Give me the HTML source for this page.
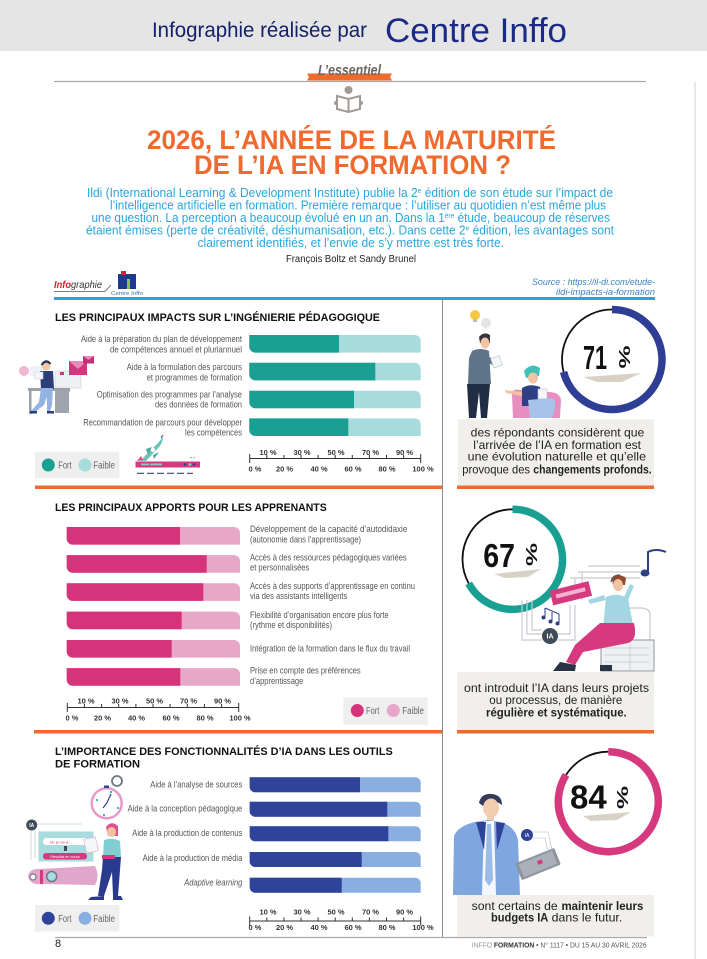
<!DOCTYPE html>
<html><head><meta charset="utf-8"><style>
html,body{margin:0;padding:0;background:#fff;}
svg{display:block;}
text{font-family:"Liberation Sans","DejaVu Sans",sans-serif;}
.n{font-family:"Liberation Sans Narrow","Liberation Sans",sans-serif;fill:#555;font-size:9.5px;}
.t{font-size:7.5px;font-weight:bold;fill:#333;text-anchor:middle;}
.h{font-size:11px;font-weight:bold;fill:#111;}
.b{font-size:12px;fill:#222;}
.p{font-size:12.5px;fill:#2aa5de;}
.lg{font-size:10px;fill:#666;}
</style></head><body>
<svg width="707" height="959" viewBox="0 0 707 959" xmlns="http://www.w3.org/2000/svg">
<rect width="707" height="959" fill="#fff"/>
<!-- header -->
<rect width="707" height="51" fill="#e5e5e5"/>
<text x="152" y="37" font-size="21" fill="#14216a" textLength="215" lengthAdjust="spacingAndGlyphs">Infographie réalisée par</text>
<text x="385" y="42" font-size="34" fill="#1b2a86" textLength="182" lengthAdjust="spacingAndGlyphs">Centre Inffo</text>
<rect x="694" y="82" width="2" height="877" fill="#e8e8e8"/>

<!-- L'essentiel -->
<polygon points="307,73.5 392,73.5 390,77 392,80.5 307,80.5 309,77" fill="#ee6a2d"/>
<text x="318" y="75" font-family="Liberation Serif" font-style="italic" font-weight="bold" font-size="15" fill="#6b6560" textLength="63" lengthAdjust="spacingAndGlyphs">L’essentiel</text>
<line x1="54" y1="81.5" x2="646" y2="81.5" stroke="#a9a9a9" stroke-width="1.2"/>
<!-- book icon -->
<circle cx="348.5" cy="90" r="4" fill="#a09a95"/>
<path d="M337,96 L348.5,99 L360,96 L360,109 L348.5,112 L337,109 Z M348.5,99 V112" stroke="#a09a95" stroke-width="2" fill="none"/>
<circle cx="336" cy="103" r="2" fill="#a09a95"/>
<circle cx="361" cy="103" r="2" fill="#a09a95"/>

<!-- title -->
<text x="147" y="149" font-size="27" font-weight="bold" fill="#ef6a2e" textLength="409" lengthAdjust="spacingAndGlyphs">2026, L’ANNÉE DE LA MATURITÉ</text>
<text x="194" y="174" font-size="27" font-weight="bold" fill="#ef6a2e" textLength="317" lengthAdjust="spacingAndGlyphs">DE L’IA EN FORMATION ?</text>

<!-- intro -->
<text class="p" x="87" y="197" textLength="526" lengthAdjust="spacingAndGlyphs">Ildi (International Learning &amp; Development Institute) publie la 2<tspan font-size="7" dy="-4">e</tspan><tspan dy="4"> édition de son étude sur l’impact de</tspan></text>
<text class="p" x="110" y="209.5" textLength="496" lengthAdjust="spacingAndGlyphs">l’intelligence artificielle en formation. Première remarque : l’utiliser au quotidien n’est même plus</text>
<text class="p" x="91.5" y="222" textLength="518.5" lengthAdjust="spacingAndGlyphs">une question. La perception a beaucoup évolué en un an. Dans la 1<tspan font-size="7" dy="-4">ère</tspan><tspan dy="4"> étude, beaucoup de réserves</tspan></text>
<text class="p" x="86" y="234.5" textLength="528" lengthAdjust="spacingAndGlyphs">étaient émises (perte de créativité, déshumanisation, etc.). Dans cette 2<tspan font-size="7" dy="-4">e</tspan><tspan dy="4"> édition, les avantages sont</tspan></text>
<text class="p" x="197.5" y="247" textLength="306.5" lengthAdjust="spacingAndGlyphs">clairement identifiés, et l’envie de s’y mettre est très forte.</text>
<text x="351" y="262" font-size="10" fill="#222" text-anchor="middle" textLength="130" lengthAdjust="spacingAndGlyphs">François Boltz et Sandy Brunel</text>

<!-- infographie logo -->
<text x="54" y="288" font-size="10" font-style="italic" font-weight="bold" fill="#d3232e" textLength="48" lengthAdjust="spacingAndGlyphs">Info<tspan fill="#333" font-weight="normal">graphie</tspan></text>
<path d="M54,291.5 H105 L111,285" stroke="#555" stroke-width="0.8" fill="none"/>
<rect x="118" y="274" width="18" height="15" fill="#1c3b8c"/>
<rect x="121" y="271" width="5" height="4" fill="#d3232e"/>
<rect x="127" y="279" width="3" height="10" fill="#8cc63f"/>
<text x="111" y="295" font-size="5.5" fill="#3a6fb7" textLength="32" lengthAdjust="spacingAndGlyphs">Centre Inffo</text>
<text x="655" y="285" font-size="9" font-style="italic" fill="#3b82c4" text-anchor="end" textLength="123" lengthAdjust="spacingAndGlyphs">Source : https://il-di.com/etude-</text>
<text x="655" y="295" font-size="9" font-style="italic" fill="#3b82c4" text-anchor="end" textLength="99" lengthAdjust="spacingAndGlyphs">ildi-impacts-ia-formation</text>
<rect x="54" y="297" width="601" height="3" fill="#2aa3de"/>

<!-- divider & lines -->
<line x1="442.5" y1="300" x2="442.5" y2="937" stroke="#8c8c8c" stroke-width="1"/>
<rect x="35" y="485.5" width="407" height="3.5" fill="#ee6a2d"/>
<rect x="457" y="485.5" width="197" height="3.5" fill="#ee6a2d"/>
<rect x="34" y="730" width="408" height="3.5" fill="#ee6a2d"/>
<rect x="457" y="730" width="197" height="3.5" fill="#ee6a2d"/>
<line x1="55" y1="937.5" x2="647" y2="937.5" stroke="#aaa" stroke-width="1.2"/>

<!-- ===== SECTION 1 ===== -->
<text class="h" x="55" y="321" textLength="325" lengthAdjust="spacingAndGlyphs">LES PRINCIPAUX IMPACTS SUR L’INGÉNIERIE PÉDAGOGIQUE</text>
<g fill="#a6dcdb">
<path d="M249.3,335 H414.7 A6,6 0 0 1 420.7,341 V352.6 H255.3 A6,6 0 0 1 249.3,346.6 Z"/>
<path d="M249.3,362.8 H414.7 A6,6 0 0 1 420.7,368.8 V380.4 H255.3 A6,6 0 0 1 249.3,374.4 Z"/>
<path d="M249.3,390.7 H414.7 A6,6 0 0 1 420.7,396.7 V408.3 H255.3 A6,6 0 0 1 249.3,402.3 Z"/>
<path d="M249.3,418.4 H414.7 A6,6 0 0 1 420.7,424.4 V436 H255.3 A6,6 0 0 1 249.3,430 Z"/>
</g>
<g fill="#19a093">
<path d="M249.3,335 H339 V352.6 H255.3 A6,6 0 0 1 249.3,346.6 Z"/>
<path d="M249.3,362.8 H375.3 V380.4 H255.3 A6,6 0 0 1 249.3,374.4 Z"/>
<path d="M249.3,390.7 H354 V408.3 H255.3 A6,6 0 0 1 249.3,402.3 Z"/>
<path d="M249.3,418.4 H348.3 V436 H255.3 A6,6 0 0 1 249.3,430 Z"/>
</g>
<g text-anchor="end">
<text class="n" x="242" y="342" textLength="161" lengthAdjust="spacingAndGlyphs">Aide à la préparation du plan de développement</text>
<text class="n" x="242" y="352.5" textLength="132" lengthAdjust="spacingAndGlyphs">de compétences annuel et pluriannuel</text>
<text class="n" x="242" y="370" textLength="115.3" lengthAdjust="spacingAndGlyphs">Aide à la formulation des parcours</text>
<text class="n" x="242" y="380.3" textLength="95.3" lengthAdjust="spacingAndGlyphs">et programmes de formation</text>
<text class="n" x="242" y="397.3" textLength="145.3" lengthAdjust="spacingAndGlyphs">Optimisation des programmes par l’analyse</text>
<text class="n" x="242" y="407.7" textLength="87" lengthAdjust="spacingAndGlyphs">des données de formation</text>
<text class="n" x="242" y="425.3" textLength="158.7" lengthAdjust="spacingAndGlyphs">Recommandation de parcours pour développer</text>
<text class="n" x="242" y="435.7" textLength="57" lengthAdjust="spacingAndGlyphs">les compétences</text>
</g>
<!-- axis 1 -->
<path d="M249.7,458.5 H420.7 M249.7,454 V463 M266.8,455 V458.5 M283.9,455 V458.5 M301,455 V458.5 M318.1,455 V458.5 M335.2,455 V458.5 M352.3,455 V458.5 M369.4,455 V458.5 M386.5,455 V458.5 M403.6,455 V458.5 M420.7,454 V463" stroke="#333" stroke-width="1" fill="none"/>
<text class="t" x="268" y="455">10 %</text><text class="t" x="302" y="455">30 %</text><text class="t" x="336" y="455">50 %</text><text class="t" x="370.5" y="455">70 %</text><text class="t" x="404.5" y="455">90 %</text>
<text class="t" x="255" y="471.7">0 %</text><text class="t" x="284.5" y="471.7">20 %</text><text class="t" x="319" y="471.7">40 %</text><text class="t" x="353" y="471.7">60 %</text><text class="t" x="387" y="471.7">80 %</text><text class="t" x="423" y="471.7">100 %</text>
<!-- legend 1 -->
<rect x="35" y="451.7" width="84.3" height="26.6" fill="#efefef"/>
<circle cx="48.3" cy="465" r="6.5" fill="#19a093"/>
<text class="lg" x="58.3" y="468.5" textLength="13.3" lengthAdjust="spacingAndGlyphs">Fort</text>
<circle cx="85" cy="465" r="6.5" fill="#a6dcdb"/>
<text class="lg" x="93.3" y="468.5" textLength="21.7" lengthAdjust="spacingAndGlyphs">Faible</text>
<!-- desk illustration -->
<g>
<circle cx="24" cy="371" r="5" fill="#f0b6d2"/>
<rect x="30" y="366" width="12" height="10" fill="#eef1f6"/>
<rect x="55" y="371" width="26" height="17" fill="#eef0f4" stroke="#d5d9e0" stroke-width="0.8"/>
<rect x="66" y="388" width="4" height="4" fill="#c9ced6"/>
<rect x="69" y="361" width="18" height="14" fill="#d4357f"/>
<path d="M69,361 L78,369 L87,361 Z" fill="#e88bb8"/>
<rect x="83" y="356" width="11" height="7.5" fill="#c42f76"/>
<path d="M83,356 L88.5,360 L94,356 Z" fill="#e88bb8"/>
<rect x="60" y="372" width="4" height="3" fill="#d4357f"/>
<rect x="28" y="388" width="42" height="3" fill="#9aa1aa"/>
<rect x="29" y="391" width="2.5" height="23" fill="#9aa1aa"/>
<rect x="55" y="391" width="14" height="22" fill="#9ea5ae"/>
<circle cx="46" cy="366" r="4.5" fill="#f2c9a8"/>
<path d="M41.5,365 Q46,358 50.5,364 Q46,359 41.5,365 Z" fill="#2c3550" stroke="#2c3550" stroke-width="2"/>
<path d="M40,371 L53,371 L54,389 L41,389 Z" fill="#2c3d7a"/>
<path d="M41,388 L50,388 L44,405 L35,412 L31,411 L39,402 Z" fill="#92b3e3"/>
<path d="M46,388 L53,388 L52,405 L50,412 L47,412 L47,400 Z" fill="#92b3e3"/>
<rect x="30" y="411" width="7" height="2.5" fill="#2c3d7a"/>
<rect x="47" y="411" width="7" height="2.5" fill="#2c3d7a"/>
<rect x="35" y="372" width="8" height="7" fill="#f5f6f8" stroke="#cfd4dc" stroke-width="0.6"/>
</g>
<!-- rocket -->
<g>
<rect x="135.5" y="461.5" width="64.5" height="6" fill="#d6397e"/>
<rect x="141" y="463.5" width="8" height="1.8" fill="#7fd0c6"/>
<rect x="150" y="463.5" width="12" height="1.8" fill="#7fd0c6"/>
<circle cx="185" cy="464.5" r="1.3" fill="#2e4399"/>
<circle cx="190" cy="464.5" r="1.3" fill="#7fd0c6"/>
<circle cx="194" cy="464.5" r="1.3" fill="#2e4399"/>
<rect x="190" y="457" width="2" height="1.2" fill="#7fd0c6"/>
<rect x="193" y="457" width="2" height="1.2" fill="#7fd0c6"/>
<path d="M140,461 L158,443 Q162,438 163,437 Q163,441 160,446 L146,461 Z" fill="#6cc3b6"/>
<path d="M146,449 L152,447 L148,455 Z" fill="#4fa99c"/>
<path d="M153,455 L159,452 L154,459 Z" fill="#4fa99c"/>
<circle cx="153" cy="450" r="2" fill="#fff"/>
<line x1="161" y1="438" x2="163" y2="435" stroke="#2e4399" stroke-width="1"/>
<path d="M137,461 L141,456 L143,460 Z" fill="#e94b7c"/>
<path d="M137,473.3 h7 M147,473.3 h7 M157,473.3 h7 M167,473.3 h7 M177,473.3 h7 M187,473.3 h6" stroke="#3b4a7a" stroke-width="1.2"/>
</g>

<!-- right panel 1 -->
<path d="M612,309.5 A50,50 0 1 1 563.57,371.93" stroke="#2d3e94" stroke-width="7.5" fill="none"/>
<path d="M563.57,371.93 A50,50 0 0 1 612,309.5" stroke="#111" stroke-width="1.8" fill="none"/>
<polygon points="583,377 641,373 622,382 597,382" fill="#d8d2c6"/>
<text x="583" y="369" font-size="33" font-weight="bold" fill="#111" textLength="24" lengthAdjust="spacingAndGlyphs">71</text>
<text transform="translate(624,357) rotate(90) scale(1,0.6)" font-size="26" font-weight="bold" fill="#111" text-anchor="middle" dominant-baseline="central">%</text>
<g>
<circle cx="475" cy="315" r="5" fill="#f6c944"/>
<rect x="473" y="319" width="4" height="3" fill="#bbb"/>
<circle cx="486" cy="323" r="5" fill="#e4e4e6"/>
<path d="M479,337 Q484,331 490,335 L490,343 L480,343 Z" fill="#3a3340"/>
<ellipse cx="485" cy="343" rx="4.5" ry="5.5" fill="#f0c3a2"/>
<path d="M472,351 Q480,347 489,351 L491,384 L468,384 L469,358 Z" fill="#5f7389"/>
<path d="M488,356 L497,362 L495,366 L486,362 Z" fill="#5f7389"/>
<rect x="492" y="357" width="9" height="10" fill="#f4f6f8" stroke="#b9c0c8" stroke-width="0.6" transform="rotate(-20 496 362)"/>
<path d="M467,384 L490,384 L487,418 L481,418 L479,392 L476,418 L469,418 Z" fill="#212c45"/>
<path d="M512,395 Q512,388 520,390 L548,392 Q560,392 561,400 L560,418 L513,418 Z" fill="#e88dc0"/>
<path d="M524,371 Q531,362 540,368 L539,376 L526,378 Z" fill="#3ec1b8"/>
<ellipse cx="533" cy="378" rx="5" ry="5.5" fill="#f0c3a2"/>
<path d="M522,388 Q530,383 540,387 L542,406 L522,406 Z" fill="#2e3f86"/>
<path d="M505,390 L522,392 L522,396 L506,393 Z" fill="#f0c3a2"/>
<rect x="538" y="389" width="9" height="10" fill="#f4f6f8" stroke="#b9c0c8" stroke-width="0.6"/>
<path d="M528,400 L552,398 Q556,400 555,408 L552,418 L530,418 Z" fill="#a7c3ea"/>
</g>
<rect x="458" y="419.3" width="196" height="66.2" fill="#f1efec"/>
<text class="b" x="470.7" y="436.7" textLength="173.6" lengthAdjust="spacingAndGlyphs">des répondants considèrent que</text>
<text class="b" x="473.3" y="449" textLength="167.7" lengthAdjust="spacingAndGlyphs">l’arrivée de l’IA en formation est</text>
<text class="b" x="467.7" y="460.7" textLength="178.3" lengthAdjust="spacingAndGlyphs">une évolution naturelle et qu’elle</text>
<text class="b" x="462.3" y="473.3" textLength="67.7" lengthAdjust="spacingAndGlyphs">provoque des</text>
<text class="b" x="533.3" y="473.3" font-weight="bold" textLength="118.4" lengthAdjust="spacingAndGlyphs">changements profonds.</text>

<!-- ===== SECTION 2 ===== -->
<text class="h" x="55" y="511" textLength="271.7" lengthAdjust="spacingAndGlyphs">LES PRINCIPAUX APPORTS POUR LES APPRENANTS</text>
<g fill="#e8a6c8">
<path d="M66.7,527 H234 A6,6 0 0 1 240,533 V544.6 H72.7 A6,6 0 0 1 66.7,538.6 Z"/>
<path d="M66.7,555.1 H234 A6,6 0 0 1 240,561.1 V572.7 H72.7 A6,6 0 0 1 66.7,566.7 Z"/>
<path d="M66.7,583.3 H234 A6,6 0 0 1 240,589.3 V600.9 H72.7 A6,6 0 0 1 66.7,594.9 Z"/>
<path d="M66.7,611.6 H234 A6,6 0 0 1 240,617.6 V629.2 H72.7 A6,6 0 0 1 66.7,623.2 Z"/>
<path d="M66.7,640 H234 A6,6 0 0 1 240,646 V657.6 H72.7 A6,6 0 0 1 66.7,651.6 Z"/>
<path d="M66.7,668.1 H234 A6,6 0 0 1 240,674.1 V685.7 H72.7 A6,6 0 0 1 66.7,679.7 Z"/>
</g>
<g fill="#d6347a">
<path d="M66.7,527 H180 V544.6 H72.7 A6,6 0 0 1 66.7,538.6 Z"/>
<path d="M66.7,555.1 H206.7 V572.7 H72.7 A6,6 0 0 1 66.7,566.7 Z"/>
<path d="M66.7,583.3 H203.3 V600.9 H72.7 A6,6 0 0 1 66.7,594.9 Z"/>
<path d="M66.7,611.6 H181.7 V629.2 H72.7 A6,6 0 0 1 66.7,623.2 Z"/>
<path d="M66.7,640 H171.7 V657.6 H72.7 A6,6 0 0 1 66.7,651.6 Z"/>
<path d="M66.7,668.1 H180.3 V685.7 H72.7 A6,6 0 0 1 66.7,679.7 Z"/>
</g>
<text class="n" x="250" y="532" textLength="157.3" lengthAdjust="spacingAndGlyphs">Développement de la capacité d’autodidaxie</text>
<text class="n" x="250" y="542.3" textLength="111" lengthAdjust="spacingAndGlyphs">(autonomie dans l’apprentissage)</text>
<text class="n" x="250" y="560.7" textLength="156.7" lengthAdjust="spacingAndGlyphs">Accès à des ressources pédagogiques variées</text>
<text class="n" x="250" y="570.7" textLength="59.3" lengthAdjust="spacingAndGlyphs">et personnalisées</text>
<text class="n" x="250" y="589" textLength="165" lengthAdjust="spacingAndGlyphs">Accès à des supports d’apprentissage en continu</text>
<text class="n" x="250" y="599" textLength="97.3" lengthAdjust="spacingAndGlyphs">via des assistants intelligents</text>
<text class="n" x="250" y="618" textLength="138.7" lengthAdjust="spacingAndGlyphs">Flexibilité d’organisation encore plus forte</text>
<text class="n" x="250" y="628" textLength="82" lengthAdjust="spacingAndGlyphs">(rythme et disponibilités)</text>
<text class="n" x="250" y="651.3" textLength="160" lengthAdjust="spacingAndGlyphs">Intégration de la formation dans le flux du travail</text>
<text class="n" x="250" y="673.3" textLength="110.7" lengthAdjust="spacingAndGlyphs">Prise en compte des préférences</text>
<text class="n" x="250" y="684" textLength="53.3" lengthAdjust="spacingAndGlyphs">d’apprentissage</text>
<!-- axis 2 -->
<path d="M67.3,707.5 H238.7 M67.3,703 V712 M84.4,704 V707.5 M101.6,704 V707.5 M118.7,704 V707.5 M135.9,704 V707.5 M153,704 V707.5 M170.1,704 V707.5 M187.3,704 V707.5 M204.4,704 V707.5 M221.6,704 V707.5 M238.7,703 V712" stroke="#333" stroke-width="1" fill="none"/>
<text class="t" x="86" y="703.5">10 %</text><text class="t" x="120" y="703.5">30 %</text><text class="t" x="154.5" y="703.5">50 %</text><text class="t" x="188.5" y="703.5">70 %</text><text class="t" x="222.5" y="703.5">90 %</text>
<text class="t" x="72" y="720.3">0 %</text><text class="t" x="102.5" y="720.3">20 %</text><text class="t" x="136.5" y="720.3">40 %</text><text class="t" x="171" y="720.3">60 %</text><text class="t" x="205" y="720.3">80 %</text><text class="t" x="240" y="720.3">100 %</text>
<!-- legend 2 -->
<rect x="343.3" y="697.3" width="84.4" height="27.4" fill="#efefef"/>
<circle cx="357.3" cy="710.5" r="6.5" fill="#d6347a"/>
<text class="lg" x="366" y="714" textLength="13.3" lengthAdjust="spacingAndGlyphs">Fort</text>
<circle cx="393.3" cy="710.5" r="6.5" fill="#e8a6c8"/>
<text class="lg" x="402.3" y="714" textLength="21.7" lengthAdjust="spacingAndGlyphs">Faible</text>

<!-- right panel 2 -->
<path d="M512.5,509.3 A50,50 0 1 1 468.7,583.4" stroke="#19a093" stroke-width="7.5" fill="none"/>
<path d="M468.7,583.4 A50,50 0 0 1 512.5,509.3" stroke="#111" stroke-width="1.8" fill="none"/>
<polygon points="494,574 541,569 528,577 505,578" fill="#d8d2c6"/>
<text x="483.3" y="567" font-size="33" font-weight="bold" fill="#111" textLength="31.7" lengthAdjust="spacingAndGlyphs">67</text>
<text transform="translate(531.3,554.5) rotate(90) scale(1,0.6)" font-size="26" font-weight="bold" fill="#111" text-anchor="middle" dominant-baseline="central">%</text>
<g fill="none" stroke="#c7cbd0" stroke-width="1.2">
<path d="M575,578 V600 M582,572 V600 M588,566 L640,566 M578,572 L640,572 M570,578 L640,578"/>
<path d="M522,600 V640 L542,640 M527,600 V634 L542,634 M532,600 V630 L542,630"/>
<path d="M558,640 L575,640 L575,605 M558,634 L570,634 L570,605"/>
<path d="M650,640 L650,615 Q650,608 640,608 L630,608"/>
</g>
<circle cx="550" cy="636" r="8" fill="#3f4b56"/>
<text x="550" y="638.5" font-size="7" fill="#fff" text-anchor="middle" font-weight="bold">IA</text>
<g transform="rotate(-14 570 594)">
<rect x="551" y="586" width="40" height="15" fill="#d6397e"/>
<rect x="556" y="591" width="30" height="4" fill="#f3b3d0"/>
</g>
<path d="M545,608 L545,617 M552,612 L552,621 M559,614 L559,623 M545,608 L559,614" stroke="#2e3f86" stroke-width="1" fill="none"/>
<circle cx="543.5" cy="617.5" r="2" fill="#2e3f86"/>
<circle cx="550.5" cy="621.5" r="2" fill="#2e3f86"/>
<circle cx="557.5" cy="623.5" r="2" fill="#2e3f86"/>
<path d="M648,571 V552 Q656,548 666,552" stroke="#2e3f86" stroke-width="2" fill="none"/>
<ellipse cx="645" cy="573" rx="4.5" ry="3.5" fill="#2e3f86"/>
<rect x="601" y="640" width="53" height="31" fill="#eef0f3" stroke="#8f97a0" stroke-width="1"/>
<path d="M605,648 h44 M605,655 h44 M605,662 h44 M630,645 v25" stroke="#c5cad0" stroke-width="0.8"/>
<path d="M612,579 Q618,572 626,578 L625,585 L613,585 Z" fill="#8d4b2c"/>
<ellipse cx="618" cy="585" rx="5" ry="6" fill="#f0c3a2"/>
<path d="M611,582 Q612,575 620,575" stroke="#555" stroke-width="1.2" fill="none"/>
<path d="M606,597 Q616,592 628,598 L633,625 L603,628 Z" fill="#a3d6e3"/>
<path d="M606,600 L590,604 L588,600 L604,595 Z" fill="#a3d6e3"/>
<path d="M628,600 L634,586 L630,584 L624,597 Z" fill="#a3d6e3"/>
<path d="M600,623 L634,623 Q638,640 628,643 L583,652 L575,665 L566,662 L575,645 Z" fill="#d6397e"/>
<path d="M560,662 L576,665 L575,671 L553,671 Z" fill="#2a3346"/>
<path d="M600,665 L612,665 L612,671 L600,671 Z" fill="#2a3346"/>
<rect x="457.3" y="672" width="196.7" height="58" fill="#f1efec"/>
<text class="b" x="464" y="692" textLength="185" lengthAdjust="spacingAndGlyphs">ont introduit l’IA dans leurs projets</text>
<text class="b" x="489.3" y="704" textLength="133" lengthAdjust="spacingAndGlyphs">ou processus, de manière</text>
<text class="b" x="486" y="716.7" font-weight="bold" textLength="140.7" lengthAdjust="spacingAndGlyphs">régulière et systématique.</text>

<!-- ===== SECTION 3 ===== -->
<text class="h" x="55" y="755" textLength="337.7" lengthAdjust="spacingAndGlyphs">L’IMPORTANCE DES FONCTIONNALITÉS D’IA DANS LES OUTILS</text>
<text class="h" x="55" y="767.3" textLength="85" lengthAdjust="spacingAndGlyphs">DE FORMATION</text>
<g fill="#8aaee0">
<path d="M249.7,777.3 H415.2 A5.5,5.5 0 0 1 420.7,782.8 V792.3 H255.2 A5.5,5.5 0 0 1 249.7,786.8 Z"/>
<path d="M249.7,801.7 H415.2 A5.5,5.5 0 0 1 420.7,807.2 V816.7 H255.2 A5.5,5.5 0 0 1 249.7,811.2 Z"/>
<path d="M249.7,826.3 H415.2 A5.5,5.5 0 0 1 420.7,831.8 V841.3 H255.2 A5.5,5.5 0 0 1 249.7,835.8 Z"/>
<path d="M249.7,852 H415.2 A5.5,5.5 0 0 1 420.7,857.5 V867 H255.2 A5.5,5.5 0 0 1 249.7,861.5 Z"/>
<path d="M249.7,877.7 H415.2 A5.5,5.5 0 0 1 420.7,883.2 V892.7 H255.2 A5.5,5.5 0 0 1 249.7,887.2 Z"/>
</g>
<g fill="#2e4399">
<path d="M249.7,777.3 H360 V792.3 H255.2 A5.5,5.5 0 0 1 249.7,786.8 Z"/>
<path d="M249.7,801.7 H387.3 V816.7 H255.2 A5.5,5.5 0 0 1 249.7,811.2 Z"/>
<path d="M249.7,826.3 H388.3 V841.3 H255.2 A5.5,5.5 0 0 1 249.7,835.8 Z"/>
<path d="M249.7,852 H361.7 V867 H255.2 A5.5,5.5 0 0 1 249.7,861.5 Z"/>
<path d="M249.7,877.7 H341.7 V892.7 H255.2 A5.5,5.5 0 0 1 249.7,887.2 Z"/>
</g>
<g text-anchor="end">
<text class="n" x="242.3" y="787.3" textLength="92" lengthAdjust="spacingAndGlyphs">Aide à l’analyse de sources</text>
<text class="n" x="242.3" y="811.7" textLength="114.7" lengthAdjust="spacingAndGlyphs">Aide à la conception pédagogique</text>
<text class="n" x="242.3" y="836" textLength="110" lengthAdjust="spacingAndGlyphs">Aide à la production de contenus</text>
<text class="n" x="242.3" y="861" textLength="99.7" lengthAdjust="spacingAndGlyphs">Aide à la production de média</text>
<text class="n" x="242.3" y="885.7" font-style="italic" textLength="58" lengthAdjust="spacingAndGlyphs">Adaptive learning</text>
</g>
<!-- axis 3 -->
<path d="M249.7,921 H420.7 M249.7,916.5 V925.5 M266.8,917.5 V921 M283.9,917.5 V921 M301,917.5 V921 M318.1,917.5 V921 M335.2,917.5 V921 M352.3,917.5 V921 M369.4,917.5 V921 M386.5,917.5 V921 M403.6,917.5 V921 M420.7,916.5 V925.5" stroke="#333" stroke-width="1" fill="none"/>
<text class="t" x="268" y="914.5">10 %</text><text class="t" x="302" y="914.5">30 %</text><text class="t" x="336" y="914.5">50 %</text><text class="t" x="370.5" y="914.5">70 %</text><text class="t" x="404.5" y="914.5">90 %</text>
<text class="t" x="255" y="930">0 %</text><text class="t" x="284.5" y="930">20 %</text><text class="t" x="319" y="930">40 %</text><text class="t" x="353" y="930">60 %</text><text class="t" x="387" y="930">80 %</text><text class="t" x="423" y="930">100 %</text>
<!-- legend 3 -->
<rect x="35" y="905" width="84.3" height="26.7" fill="#efefef"/>
<circle cx="48.3" cy="918.3" r="6.5" fill="#2e4399"/>
<text class="lg" x="58.3" y="922" textLength="13.3" lengthAdjust="spacingAndGlyphs">Fort</text>
<circle cx="85" cy="918.3" r="6.5" fill="#8aaee0"/>
<text class="lg" x="93.3" y="922" textLength="21.7" lengthAdjust="spacingAndGlyphs">Faible</text>
<!-- clock woman illustration -->
<g>
<circle cx="106.7" cy="803.3" r="15" fill="#fff" stroke="#e69ac7" stroke-width="2.5"/>
<circle cx="117" cy="781" r="5" fill="#fff" stroke="#6d7986" stroke-width="1.8"/>
<rect x="104" y="785.5" width="5" height="2.5" fill="#2e4399"/>
<line x1="106.7" y1="803.3" x2="111" y2="794" stroke="#2e4399" stroke-width="1.2"/>
<line x1="106.7" y1="803.3" x2="103" y2="808" stroke="#2e4399" stroke-width="1.2"/>
<circle cx="97" cy="800" r="1" fill="#1a9a8f"/>
<circle cx="118" cy="808" r="1" fill="#1a9a8f"/>
<circle cx="111" cy="792" r="1" fill="#1a9a8f"/>
<circle cx="104" cy="815" r="1" fill="#1a9a8f"/>
<circle cx="31.7" cy="825" r="5.5" fill="#3f4b56"/>
<text x="31.7" y="827" font-size="5" fill="#fff" text-anchor="middle" font-weight="bold">IA</text>
<path d="M38,824 H82 M31,831 V860 M35,831 V858" stroke="#c7cbd0" stroke-width="0.8" fill="none"/>
<rect x="38.5" y="831.5" width="55" height="30" fill="#a9dcdf"/>
<rect x="43" y="838" width="46" height="7" rx="3" fill="#fff"/>
<text x="50" y="843.3" font-size="4" fill="#d6397e">IA, je veux...</text>
<rect x="64" y="846" width="3" height="5" fill="#3f4b56"/>
<rect x="43" y="853" width="44" height="6.5" rx="3" fill="#d6397e"/>
<text x="65" y="858" font-size="3.8" fill="#fff" text-anchor="middle">Résultat en cours</text>
<path d="M28,876 Q30,868 40,869 L95,866 Q100,876 95,885 L40,884 Q30,885 28,876 Z" fill="#e2a6cd"/>
<circle cx="51.7" cy="876.5" r="5" fill="#a9dcdf" stroke="#6d7986" stroke-width="1.5"/>
<circle cx="33" cy="877" r="3" fill="#fff" stroke="#6d7986" stroke-width="1.2"/>
<rect x="40" y="870" width="3" height="14" fill="#d6397e"/>
<path d="M106,827 Q111,820 118,826 L118,836 L108,836 Z" fill="#e04f8f"/>
<ellipse cx="111.5" cy="832" rx="4.5" ry="5" fill="#f0c3a2"/>
<rect x="85" y="838" width="12" height="14" fill="#f5f6f8" stroke="#e2a6cd" stroke-width="0.6" transform="rotate(-12 91 845)"/>
<path d="M104,840 Q112,837 120,841 L121,857 L103,857 Z" fill="#7fcfd2"/>
<path d="M103,857 L121,857 L120,870 L118,896 L113,896 L112,872 L104,896 L98,896 L102,870 Z" fill="#2a3a8f"/>
<rect x="102" y="855" width="13" height="4" fill="#d6397e"/>
<path d="M91,897 L104,896 L104,900 L88,900 Z" fill="#2a3a8f"/>
<path d="M113,896 L121,896 L123,900 L113,900 Z" fill="#2a3a8f"/>
</g>

<!-- right panel 3 -->
<path d="M608.3,751.7 A50,50 0 1 1 566.1,774.9" stroke="#d6397e" stroke-width="7.5" fill="none"/>
<path d="M566.1,774.9 A50,50 0 0 1 608.3,751.7" stroke="#111" stroke-width="1.8" fill="none"/>
<polygon points="583,816 631,812 617,820 591,821" fill="#d8d2c6"/>
<text x="570" y="808.3" font-size="33" font-weight="bold" fill="#111" textLength="36.7" lengthAdjust="spacingAndGlyphs">84</text>
<text transform="translate(622.2,797.5) rotate(90) scale(1,0.6)" font-size="26" font-weight="bold" fill="#111" text-anchor="middle" dominant-baseline="central">%</text>
<g>
<path d="M479,803 Q481,793 492,794 Q502,795 502,805 L499,803 Q490,800 483,806 Z" fill="#353b5a"/>
<ellipse cx="491" cy="808" rx="8" ry="9.5" fill="#f3cdb0"/>
<rect x="487" y="815" width="7" height="6" fill="#f3cdb0"/>
<path d="M454,836 Q458,826 475,822 L488,820 L500,822 Q515,826 518,840 L520,895 L453,895 Z" fill="#7fa6df"/>
<path d="M484,821 L494,821 L496,895 L482,895 Z" fill="#f4f7fb"/>
<path d="M487,824 L491,824 L493,880 L489,886 L485,880 Z" fill="#9bbbe8"/>
<path d="M476,822 L486,822 L484,850 Z" fill="#2e4399"/>
<path d="M496,822 L505,823 L497,850 Z" fill="#2e4399"/>
<path d="M497,864 L525,866 L527,874 L498,874 Z" fill="#7fa6df"/>
<g transform="rotate(-22 538 864)"><rect x="517" y="855" width="42" height="18" rx="1.5" fill="#8c949f"/><rect x="520" y="857" width="36" height="14" fill="#a9b0b9"/><rect x="538" y="861" width="5" height="4" fill="#d6397e"/></g>
<circle cx="527" cy="835" r="6" fill="#2e4399"/>
<text x="527" y="837" font-size="5" fill="#fff" text-anchor="middle">IA</text>
<path d="M533,832 H548 L552,850 M533,838 H545 L548,852" stroke="#c7cbd0" stroke-width="0.8" fill="none"/>
</g>
<rect x="457.3" y="895" width="196.7" height="41.5" fill="#f1efec"/>
<text class="b" x="471.7" y="910" textLength="86" lengthAdjust="spacingAndGlyphs">sont certains de</text>
<text class="b" x="561.5" y="910" font-weight="bold" textLength="81.8" lengthAdjust="spacingAndGlyphs">maintenir leurs</text>
<text class="b" x="491" y="921.7" font-weight="bold" textLength="57.3" lengthAdjust="spacingAndGlyphs">budgets IA</text>
<text class="b" x="551.7" y="921.7" textLength="70.6" lengthAdjust="spacingAndGlyphs">dans le futur.</text>

<!-- footer -->
<text x="55" y="947" font-size="11" fill="#222">8</text>
<text x="471.7" y="947.3" font-size="7.5" fill="#555" textLength="175" lengthAdjust="spacingAndGlyphs"><tspan fill="#999">INFFO </tspan><tspan font-weight="bold" fill="#333">FORMATION</tspan> • N° 1117 • DU 15 AU 30 AVRIL 2026</text>
</svg>
</body></html>
